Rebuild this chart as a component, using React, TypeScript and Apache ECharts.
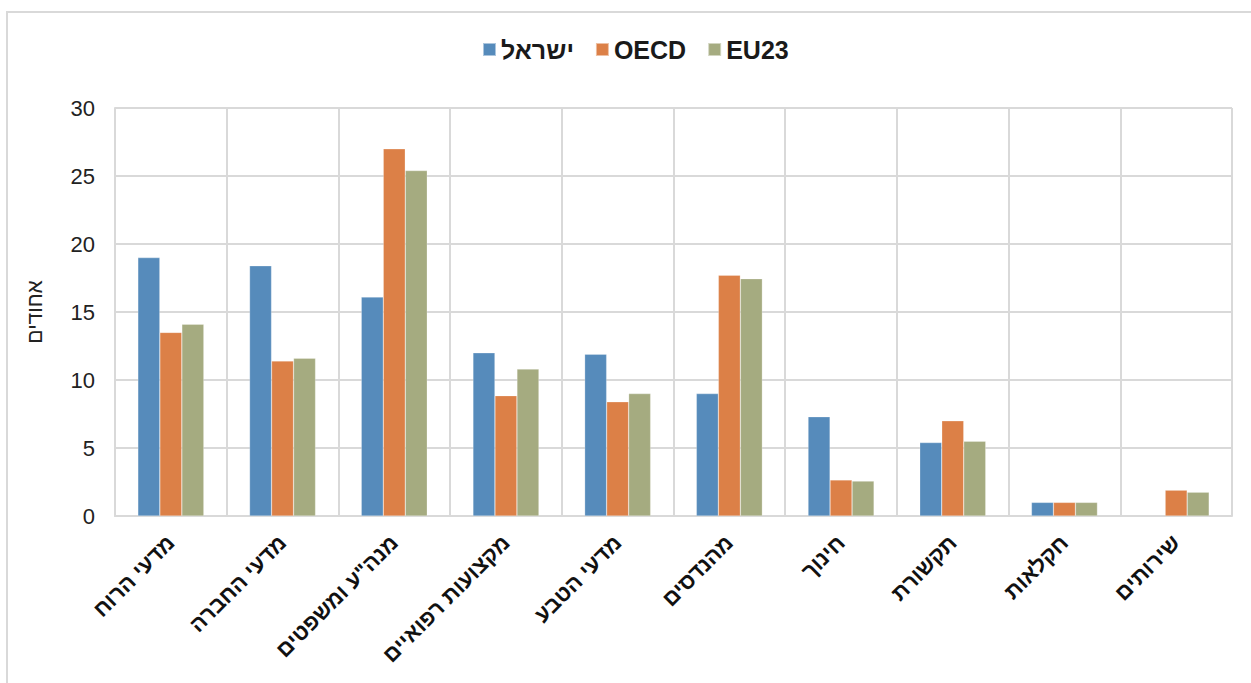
import React, { useEffect, useRef } from "react";
import * as echarts from "echarts";

const categories = [
  "מדעי הרוח",
  "מדעי החברה",
  "מנה\"ע ומשפטים",
  "מקצועות רפואיים",
  "מדעי הטבע",
  "מהנדסים",
  "חינוך",
  "תקשורת",
  "חקלאות",
  "שירותים",
];
const seriesNames = ["ישראל", "OECD", "EU23"];
const israel = [19.0, 18.4, 16.1, 12.0, 11.9, 9.0, 7.3, 5.4, 1.0, null];
const oecd = [13.5, 11.4, 27.0, 8.85, 8.4, 17.7, 2.65, 7.0, 1.0, 1.9];
const eu23 = [14.1, 11.6, 25.4, 10.8, 9.0, 17.45, 2.57, 5.5, 1.0, 1.75];
const yTicks = { min: 0, max: 30, interval: 5 };
const yAxisName = "אחודים";

const colors = ["#568BBB", "#DC8047", "#A5AB80"];
const FONT = "'Liberation Sans', Arial, sans-serif";

export default function App() {
  const ref = useRef<HTMLDivElement>(null);
  useEffect(() => {
    if (!ref.current) return;
    const chart = echarts.init(ref.current, undefined, { renderer: "svg" });
    const values = [israel, oecd, eu23];
    chart.setOption({
      animation: false,
      backgroundColor: "#ffffff",
      color: colors,
      textStyle: { fontFamily: FONT },
      graphic: [
        {
          type: "rect",
          shape: { x: 7, y: 12, width: 1300, height: 720 },
          style: { fill: "none", stroke: "#D9D9D9", lineWidth: 2 },
          silent: true,
          z: -1,
        },
      ],
      legend: {
        top: 32,
        left: 477,
        itemWidth: 13,
        itemHeight: 13,
        itemGap: 21,
        icon: "rect",
        textStyle: {
          fontFamily: FONT,
          fontSize: 25,
          fontWeight: "bold",
          color: "#1a1a1a",
          padding: [0, 0, 0, 0],
        },
        data: seriesNames,
      },
      grid: { left: 115, right: 19, top: 108, bottom: 167, containLabel: false },
      xAxis: {
        type: "category",
        data: categories,
        boundaryGap: true,
        axisLine: { show: true, lineStyle: { color: "#D9D9D9", width: 2 } },
        axisTick: { show: false },
        splitLine: { show: true, lineStyle: { color: "#D9D9D9", width: 2 } },
        axisLabel: {
          interval: 0,
          rotate: 45,
          margin: 23,
          fontFamily: FONT,
          fontSize: 22,
          fontWeight: "bold",
          color: "#111",
        },
      },
      yAxis: {
        type: "value",
        min: yTicks.min,
        max: yTicks.max,
        interval: yTicks.interval,
        name: yAxisName,
        nameLocation: "middle",
        nameRotate: 90,
        nameGap: 70,
        nameTextStyle: { fontFamily: FONT, fontSize: 21, color: "#222" },
        axisLine: { show: true, lineStyle: { color: "#D9D9D9", width: 2 } },
        axisTick: { show: false },
        splitLine: { show: true, lineStyle: { color: "#D9D9D9", width: 2 } },
        axisLabel: { fontFamily: FONT, fontSize: 22, color: "#222", margin: 20 },
      },
      series: seriesNames.map((name, i) => ({
        name,
        type: "bar",
        data: values[i].map((v) => (v === null ? "-" : v)),
        barWidth: 22,
        barGap: "0%",
        itemStyle: { color: colors[i], borderColor: "rgba(255,255,255,0.5)", borderWidth: 0.5 },
      })),
    });
    return () => chart.dispose();
  }, []);
  return (
    <div
      ref={ref}
      style={{ position: "absolute", left: 0, top: 0, width: 1251, height: 683 }}
    />
  );
}
